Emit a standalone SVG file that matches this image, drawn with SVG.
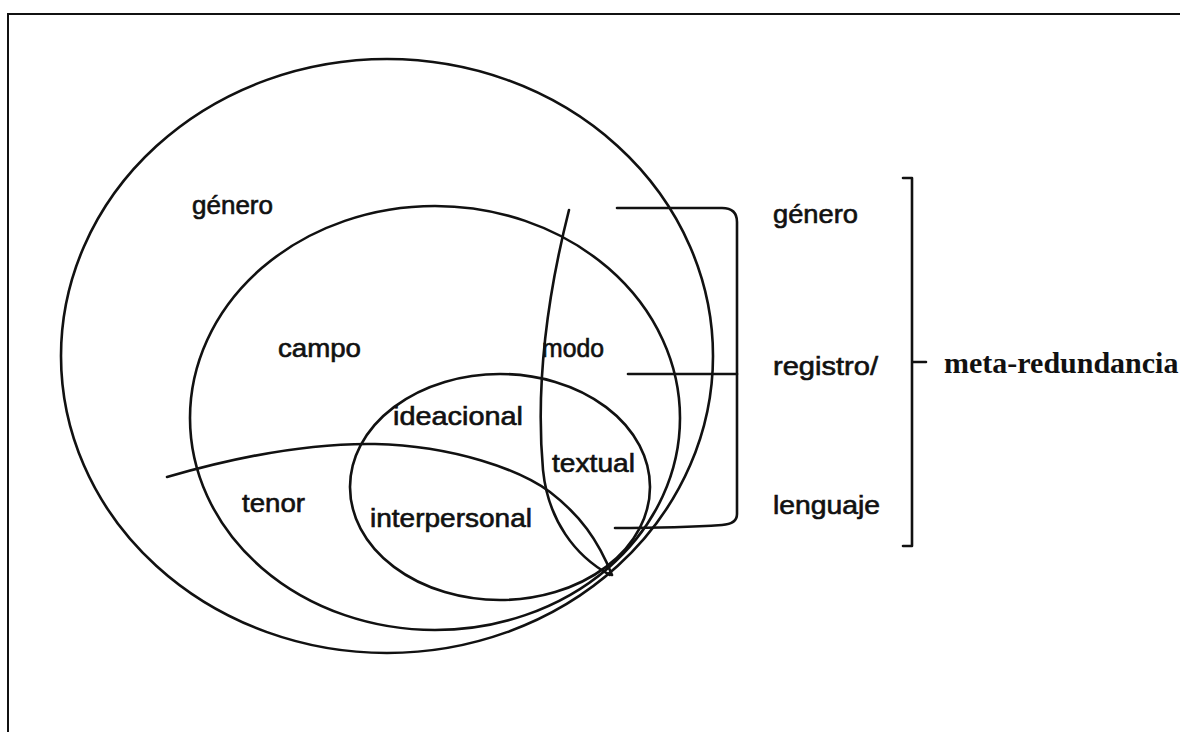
<svg xmlns="http://www.w3.org/2000/svg" width="1180" height="732" viewBox="0 0 1180 732">
<style>
.ln{fill:none;stroke:#111;stroke-width:2.6;stroke-linecap:round;stroke-linejoin:round}
.fr{fill:none;stroke:#111;stroke-width:2}
.lb{font-family:"Liberation Sans",Arial,sans-serif;font-size:25px;fill:#111;stroke:#111;stroke-width:0.6}
.mr{font-family:"Liberation Serif","Times New Roman",serif;font-size:30px;font-weight:bold;fill:#111}
</style>
<rect width="1180" height="732" fill="#fff"/>
<path class="fr" d="M8,732 V14 H1180"/>
<g id="genero-circle">
<ellipse class="ln" cx="387" cy="356" rx="326" ry="297"/>
<text class="lb" x="192" y="214" textLength="81" lengthAdjust="spacingAndGlyphs">género</text>
</g>
<g id="campo">
<ellipse class="ln" cx="435" cy="418" rx="245" ry="212"/>
<text class="lb" x="278" y="357" textLength="83" lengthAdjust="spacingAndGlyphs">campo</text>
</g>
<g id="metafunciones">
<ellipse class="ln" cx="500" cy="487" rx="150" ry="113"/>
<text class="lb" x="393" y="425" textLength="130" lengthAdjust="spacingAndGlyphs">ideacional</text>
<text class="lb" x="370" y="527" textLength="162" lengthAdjust="spacingAndGlyphs">interpersonal</text>
<text class="lb" x="552" y="472" textLength="83" lengthAdjust="spacingAndGlyphs">textual</text>
</g>
<g id="tenor">
<path class="ln" d="M167,477 C250,453 320,443 375,444 C455,446 520,470 550,492 C580,515 598,540 612,575"/>
<text class="lb" x="242" y="512" textLength="63" lengthAdjust="spacingAndGlyphs">tenor</text>
</g>
<g id="modo">
<path class="ln" d="M569,210 C550,285 535,380 543,470 C548,520 575,556 610,575"/>
<text class="lb" x="542" y="357" textLength="62" lengthAdjust="spacingAndGlyphs">modo</text>
</g>
<g id="connectors">
<path class="ln" d="M617,208 H722 Q737,208 737,222 V514 Q737,524 722,525 Q680,528 615,528"/>
<path class="ln" d="M628,374 H737"/>
<path class="ln" d="M903,178 H912 V546 H903 M912,362 H926"/>
</g>
<g id="niveles">
<text class="lb" x="773" y="223" textLength="85" lengthAdjust="spacingAndGlyphs">género</text>
<text class="lb" x="773" y="375" textLength="105" lengthAdjust="spacingAndGlyphs">registro/</text>
<text class="lb" x="773" y="514" textLength="107" lengthAdjust="spacingAndGlyphs">lenguaje</text>
</g>
<g id="meta-redundancia">
<text class="mr" x="944" y="373">meta-redundancia</text>
</g>
</svg>
